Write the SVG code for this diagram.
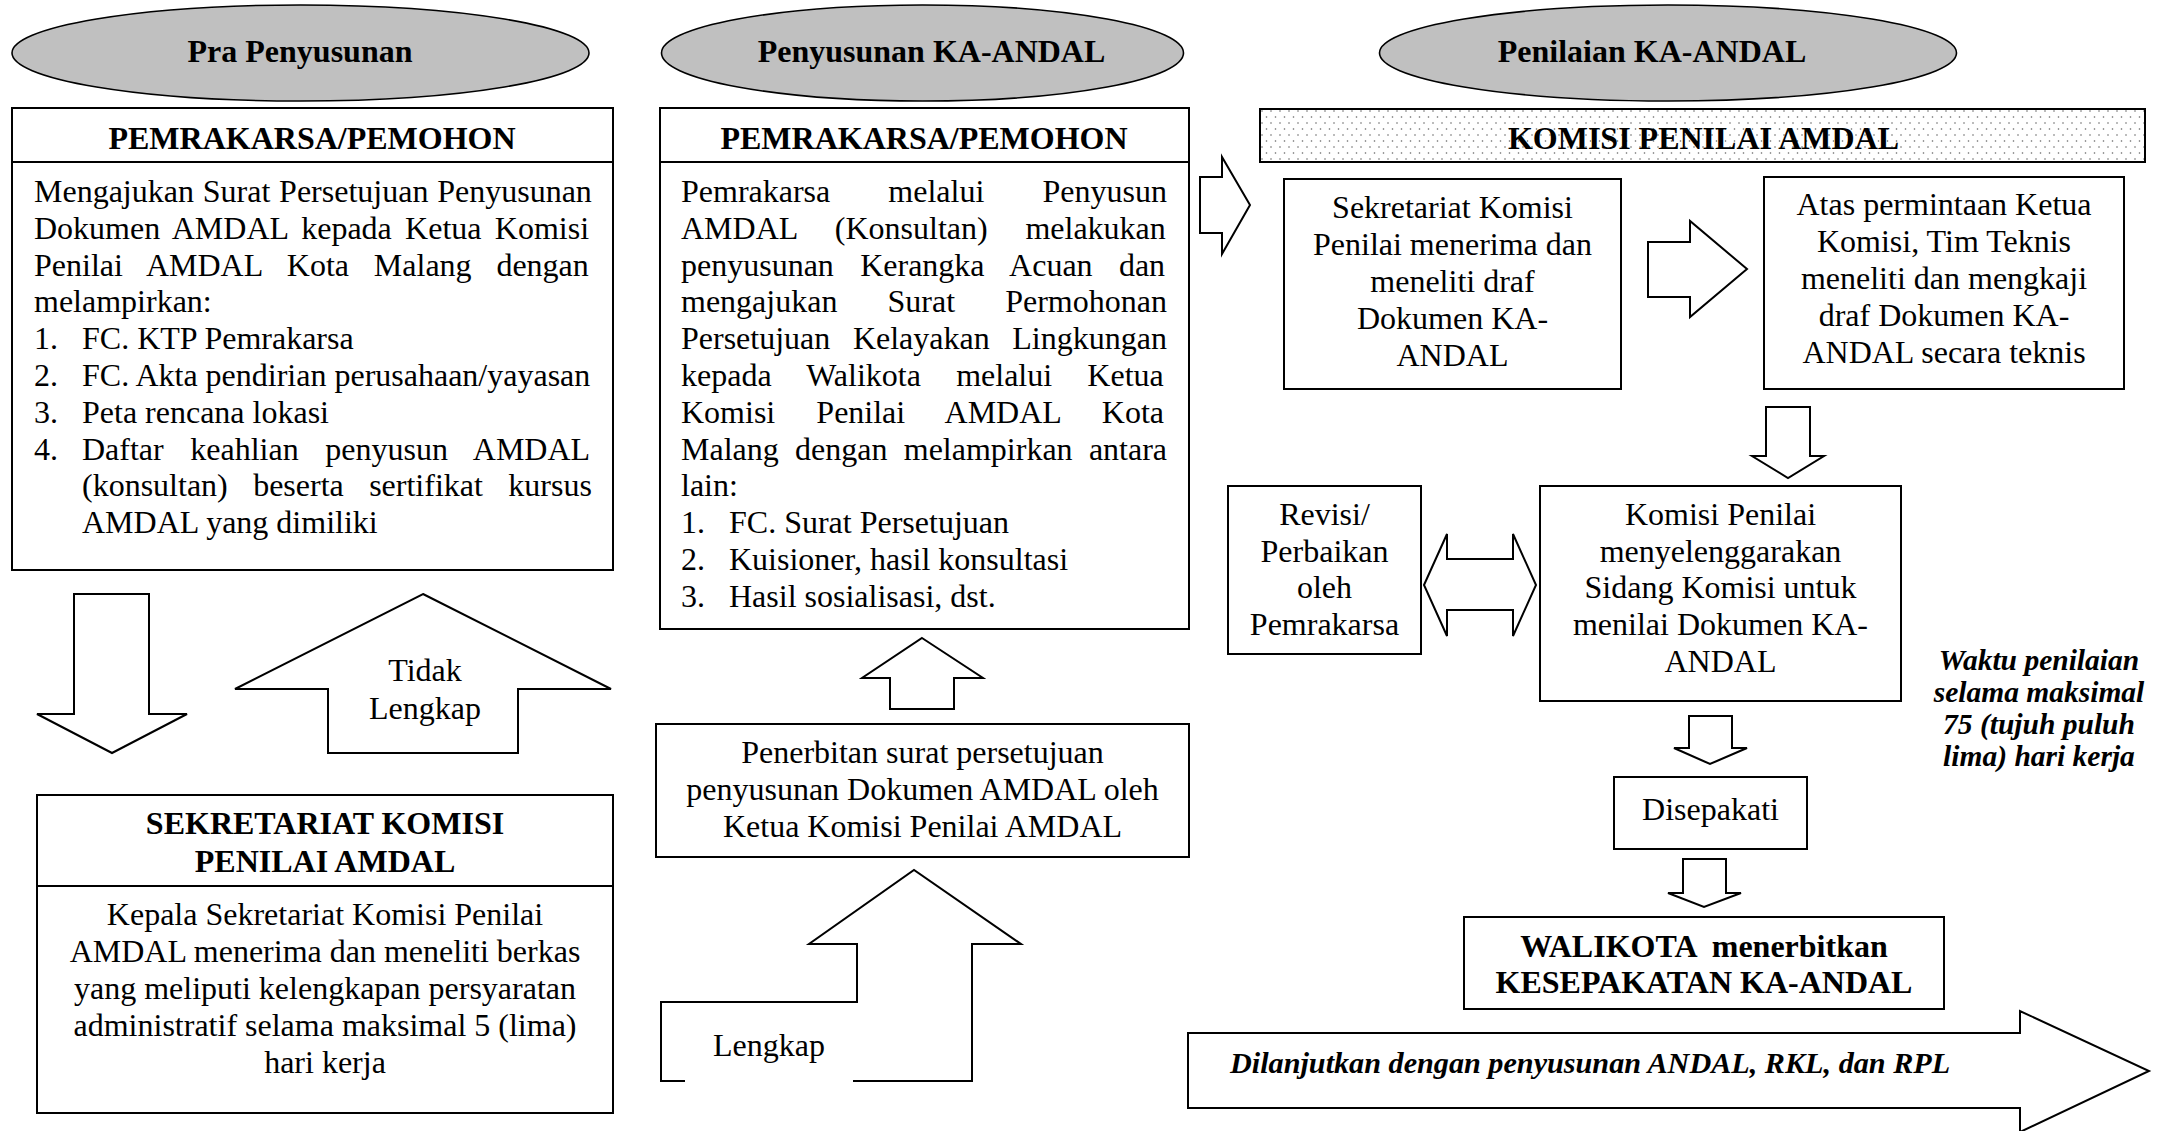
<svg xmlns="http://www.w3.org/2000/svg" width="2162" height="1131" viewBox="0 0 2162 1131">
<defs>
<style>
.box{fill:#fff;stroke:#000;stroke-width:2}
.ell{fill:#c0c0c0;stroke:#000;stroke-width:1.6}
.arr{fill:#fff;stroke:#000;stroke-width:2;stroke-linejoin:miter}
.t{font-family:"Liberation Serif","Times New Roman",serif;font-size:32px;fill:#000}
.b{font-weight:bold}
.c{text-anchor:middle}
.bi{font-weight:bold;font-style:italic;font-size:29.5px}
</style>
<pattern id="dots" width="9" height="12" patternUnits="userSpaceOnUse">
<rect width="9" height="12" fill="#fff"/>
<circle cx="2" cy="3" r="0.8" fill="#666"/>
<circle cx="6.5" cy="9" r="0.8" fill="#666"/>
</pattern>
</defs>
<rect width="2162" height="1131" fill="#fff"/>

<g id="phase-pra">
<ellipse class="ell" cx="300.5" cy="53" rx="288.5" ry="48"/>
<text class="t b c" x="300" y="62">Pra Penyusunan</text>
</g>
<g id="phase-penyusunan">
<ellipse class="ell" cx="922.5" cy="53" rx="261" ry="48"/>
<text class="t b c" x="931.5" y="62">Penyusunan KA-ANDAL</text>
</g>
<g id="phase-penilaian">
<ellipse class="ell" cx="1668" cy="53" rx="288.5" ry="48"/>
<text class="t b c" x="1652" y="62">Penilaian KA-ANDAL</text>
</g>

<g id="pemrakarsa-1">
<rect class="box" x="12" y="108" width="601" height="462"/>
<line x1="12" y1="162" x2="613" y2="162" stroke="#000" stroke-width="2"/>
<text class="t b c" x="312" y="149">PEMRAKARSA/PEMOHON</text>
<text class="t" x="34" y="202" word-spacing="0.8">Mengajukan Surat Persetujuan Penyusunan</text>
<text class="t" x="34" y="238.8" word-spacing="5.3">Dokumen AMDAL kepada Ketua Komisi</text>
<text class="t" x="34" y="275.6" word-spacing="16.8">Penilai AMDAL Kota Malang dengan</text>
<text class="t" x="34" y="312.4">melampirkan:</text>
<text class="t" y="349.2"><tspan x="34">1.</tspan><tspan x="82">FC. KTP Pemrakarsa</tspan></text>
<text class="t" y="386"><tspan x="34">2.</tspan><tspan x="82">FC. Akta pendirian perusahaan/yayasan</tspan></text>
<text class="t" y="422.8"><tspan x="34">3.</tspan><tspan x="82">Peta rencana lokasi</tspan></text>
<text class="t" y="459.6" word-spacing="18.6"><tspan x="34" word-spacing="0">4.</tspan><tspan x="82">Daftar keahlian penyusun AMDAL</tspan></text>
<text class="t" x="82" y="496.4" word-spacing="17.4">(konsultan) beserta sertifikat kursus</text>
<text class="t" x="82" y="533.2">AMDAL yang dimiliki</text>
</g>

<g id="sekretariat-1">
<rect class="box" x="37" y="795" width="576" height="318"/>
<line x1="37" y1="886" x2="613" y2="886" stroke="#000" stroke-width="2"/>
<text class="t b c" x="325" y="834">SEKRETARIAT KOMISI</text>
<text class="t b c" x="325" y="872">PENILAI AMDAL</text>
<text class="t c" x="325" y="925">Kepala Sekretariat Komisi Penilai</text>
<text class="t c" x="325" y="962">AMDAL menerima dan meneliti berkas</text>
<text class="t c" x="325" y="999">yang meliputi kelengkapan persyaratan</text>
<text class="t c" x="325" y="1036">administratif selama maksimal 5 (lima)</text>
<text class="t c" x="325" y="1073">hari kerja</text>
</g>

<g id="pemrakarsa-2">
<rect class="box" x="660" y="108" width="529" height="521"/>
<line x1="660" y1="162" x2="1189" y2="162" stroke="#000" stroke-width="2"/>
<text class="t b c" x="924" y="149">PEMRAKARSA/PEMOHON</text>
<text class="t" x="681" y="202" word-spacing="50.1">Pemrakarsa melalui Penyusun</text>
<text class="t" x="681" y="238.8" word-spacing="29.7">AMDAL (Konsultan) melakukan</text>
<text class="t" x="681" y="275.6" word-spacing="18.3">penyusunan Kerangka Acuan dan</text>
<text class="t" x="681" y="312.4" word-spacing="42.1">mengajukan Surat Permohonan</text>
<text class="t" x="681" y="349.2" word-spacing="14.6">Persetujuan Kelayakan Lingkungan</text>
<text class="t" x="681" y="386" word-spacing="27.2">kepada Walikota melalui Ketua</text>
<text class="t" x="681" y="422.8" word-spacing="33.1">Komisi Penilai AMDAL Kota</text>
<text class="t" x="681" y="459.6" word-spacing="8.3">Malang dengan melampirkan antara</text>
<text class="t" x="681" y="496.4">lain:</text>
<text class="t" y="533.2"><tspan x="681">1.</tspan><tspan x="729">FC. Surat Persetujuan</tspan></text>
<text class="t" y="570"><tspan x="681">2.</tspan><tspan x="729">Kuisioner, hasil konsultasi</tspan></text>
<text class="t" y="606.8"><tspan x="681">3.</tspan><tspan x="729">Hasil sosialisasi, dst.</tspan></text>
</g>

<g id="penerbitan">
<rect class="box" x="656" y="724" width="533" height="133"/>
<text class="t c" x="922.5" y="763">Penerbitan surat persetujuan</text>
<text class="t c" x="922.5" y="800">penyusunan Dokumen AMDAL oleh</text>
<text class="t c" x="922.5" y="837">Ketua Komisi Penilai AMDAL</text>
</g>

<g id="komisi-header">
<rect x="1260" y="109" width="885" height="53" fill="url(#dots)" stroke="#000" stroke-width="2"/>
<text class="t b c" x="1703.5" y="149">KOMISI PENILAI AMDAL</text>
</g>

<g id="sekretariat-2">
<rect class="box" x="1284" y="179" width="337" height="210"/>
<text class="t c" x="1452.5" y="218">Sekretariat Komisi</text>
<text class="t c" x="1452.5" y="255">Penilai menerima dan</text>
<text class="t c" x="1452.5" y="292">meneliti draf</text>
<text class="t c" x="1452.5" y="329">Dokumen KA-</text>
<text class="t c" x="1452.5" y="366">ANDAL</text>
</g>

<g id="tim-teknis">
<rect class="box" x="1764" y="177" width="360" height="212"/>
<text class="t c" x="1944" y="215">Atas permintaan Ketua</text>
<text class="t c" x="1944" y="252">Komisi, Tim Teknis</text>
<text class="t c" x="1944" y="289">meneliti dan mengkaji</text>
<text class="t c" x="1944" y="326">draf Dokumen KA-</text>
<text class="t c" x="1944" y="363">ANDAL secara teknis</text>
</g>

<g id="revisi">
<rect class="box" x="1228" y="486" width="193" height="168"/>
<text class="t c" x="1324.5" y="525">Revisi/</text>
<text class="t c" x="1324.5" y="562">Perbaikan</text>
<text class="t c" x="1324.5" y="598">oleh</text>
<text class="t c" x="1324.5" y="635">Pemrakarsa</text>
</g>

<g id="sidang-komisi">
<rect class="box" x="1540" y="486" width="361" height="215"/>
<text class="t c" x="1720.5" y="525">Komisi Penilai</text>
<text class="t c" x="1720.5" y="562">menyelenggarakan</text>
<text class="t c" x="1720.5" y="598">Sidang Komisi untuk</text>
<text class="t c" x="1720.5" y="635">menilai Dokumen KA-</text>
<text class="t c" x="1720.5" y="672">ANDAL</text>
</g>

<g id="waktu-note">
<text class="t bi c" x="2039" y="670">Waktu penilaian</text>
<text class="t bi c" x="2039" y="702">selama maksimal</text>
<text class="t bi c" x="2039" y="734">75 (tujuh puluh</text>
<text class="t bi c" x="2039" y="766">lima) hari kerja</text>
</g>

<g id="disepakati">
<rect class="box" x="1614" y="777" width="193" height="72"/>
<text class="t c" x="1710.5" y="820">Disepakati</text>
</g>

<g id="walikota">
<rect class="box" x="1464" y="917" width="480" height="92"/>
<text class="t b c" x="1704" y="957" style="white-space:pre">WALIKOTA  menerbitkan</text>
<text class="t b c" x="1704" y="993">KESEPAKATAN KA-ANDAL</text>
</g>

<g id="connectors">
<path class="arr" d="M74,594 H149 V714 H187 L112,753 L37,714 H74 Z"/>
<path class="arr" d="M423,594 L611,689 H518 V753 H328 V689 H235 Z"/>
<text class="t c" x="425" y="681">Tidak</text>
<text class="t c" x="425" y="719">Lengkap</text>
<path class="arr" d="M922,638 L983,678 H954 V709 H890 V678 H862 Z"/>
<path class="arr" d="M685,1081 H661 V1002 H857 V944 H809 L914,870 L1021,944 H972 V1081 H853"/>
<text class="t" x="713" y="1056">Lengkap</text>
<path class="arr" d="M1200,177 H1222 V157 L1250,205 L1222,254 V233 H1200 Z"/>
<path class="arr" d="M1648,242 H1690 V221 L1747,269 L1690,317 V297 H1648 Z"/>
<path class="arr" d="M1766,407 H1810 V456 H1824 L1788,478 L1752,456 H1766 Z"/>
<path class="arr" d="M1424,585 L1447,534 V559 H1513 V534 L1536,585 L1513,636 V610 H1447 V636 Z"/>
<path class="arr" d="M1689,716 H1732 V748 H1747 L1710,764 L1674,748 H1689 Z"/>
<path class="arr" d="M1683,859 H1726 V893 H1741 L1704,907 L1668,893 H1683 Z"/>
<path class="arr" d="M1188,1033 H2020 V1011 L2149,1071 L2020,1132 V1108 H1188 Z"/>
<text class="t bi" x="1230" y="1073" style="font-size:30.2px">Dilanjutkan dengan penyusunan ANDAL, RKL, dan RPL</text>
</g>
</svg>
